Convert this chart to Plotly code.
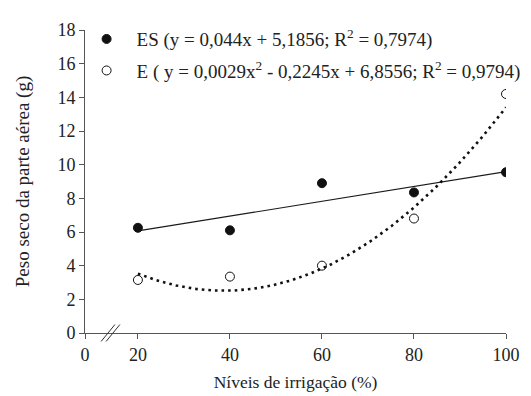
import numpy as np
import plotly.graph_objects as go

# Data
niveis = [20, 40, 60, 80, 100]
es_vals = [6.25, 6.1, 8.9, 8.35, 9.55]
e_vals = [3.15, 3.35, 4.0, 6.8, 14.2]

# Regression coefficients from the legend
es_coef = [0.044, 5.1856]            # linear: a*x + b
e_coef = [0.0029, -0.2245, 6.8556]   # quadratic: a*x^2 + b*x + c

x_tickvals = [8.5, 20, 40, 60, 80, 100]
x_ticktext = ["0", "20", "40", "60", "80", "100"]
y_ticks = [0, 2, 4, 6, 8, 10, 12, 14, 16, 18]

es_label = "ES (y = 0,044x + 5,1856; R<sup>2</sup> = 0,7974)"
e_label = "E ( y = 0,0029x<sup>2</sup> - 0,2245x + 6,8556; R<sup>2</sup> = 0,9794)"

xfit = np.linspace(min(niveis), max(niveis), 300)
es_fit = np.polyval(es_coef, xfit)
e_fit = np.polyval(e_coef, xfit)

FONT = "Liberation Serif, Times New Roman, serif"
fig = go.Figure()

fig.add_trace(go.Scatter(x=xfit, y=es_fit, mode="lines",
                         line=dict(color="#1a1a1a", width=1.1), showlegend=False))
fig.add_trace(go.Scatter(x=xfit, y=e_fit, mode="lines",
                         line=dict(color="#111", width=2.6, dash="2.6px,4px"), showlegend=False))
fig.add_trace(go.Scatter(x=niveis, y=es_vals, mode="markers", name=es_label,
                         marker=dict(symbol="circle", size=9, color="#111",
                                     line=dict(color="#111", width=1)),
                         legend="legend"))
fig.add_trace(go.Scatter(x=niveis, y=e_vals, mode="markers", name=e_label,
                         marker=dict(symbol="circle-open", size=9, color="#111",
                                     line=dict(color="#111", width=1)),
                         legend="legend2"))

# axis break marks
for dx in (0, 5):
    fig.add_shape(type="line", xref="x", yref="paper",
                  x0=12.0 + dx / 4.61, x1=15.0 + dx / 4.61, y0=-0.028, y1=0.028,
                  line=dict(color="#333", width=1))

legend_common = dict(font=dict(family=FONT, size=19, color="#222"),
                     bgcolor="rgba(0,0,0,0)", itemwidth=50,
                     xanchor="left", yanchor="middle", xref="paper", yref="paper")
fig.update_layout(
    width=531, height=396,
    margin=dict(l=77, r=33, t=22, b=71),
    plot_bgcolor="white", paper_bgcolor="white",
    font=dict(family=FONT, size=18, color="#222"),
    legend=dict(x=-0.02, y=0.97, **legend_common),
    legend2=dict(x=-0.02, y=0.866, **legend_common),
    xaxis=dict(range=[8.5, 100], tickvals=x_tickvals, ticktext=x_ticktext,
               showgrid=False, zeroline=False, showline=True, linecolor="#555",
               linewidth=1, ticks="outside", ticklen=5, tickcolor="#555",
               title=dict(text="Níveis de irrigação (%)", font=dict(size=17.5), standoff=12),
               tickfont=dict(size=18)),
    yaxis=dict(range=[0, 18], tickvals=y_ticks, showgrid=False, zeroline=False,
               showline=True, linecolor="#555", linewidth=1, ticks="outside",
               ticklen=5, tickcolor="#555",
               title=dict(text="Peso seco da parte aérea (g)", font=dict(size=19), standoff=22),
               tickfont=dict(size=18)),
)

fig.write_html("out.html")
